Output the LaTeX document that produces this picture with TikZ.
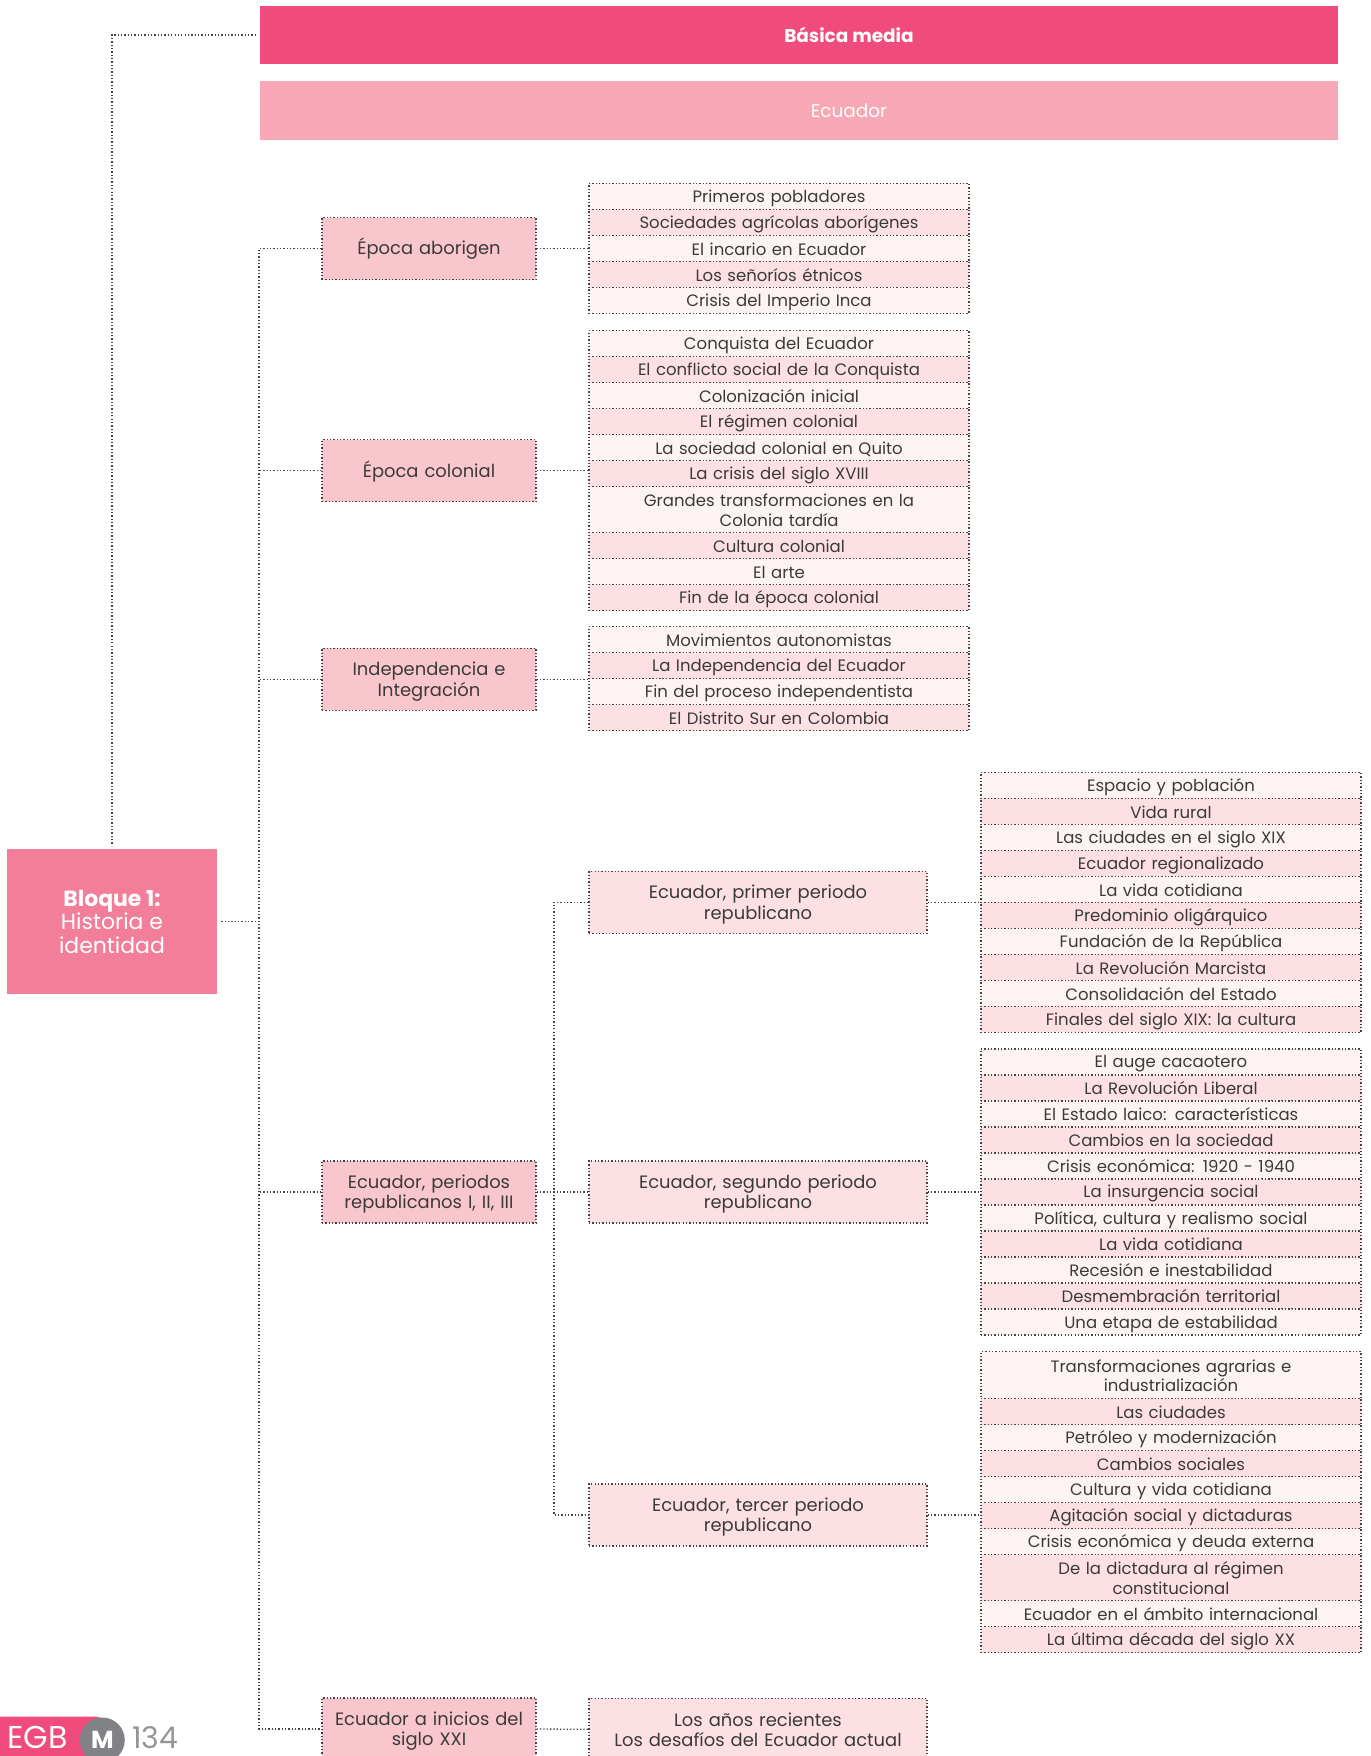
\documentclass[tikz,border=0pt]{standalone}
\usepackage{fontspec}
\setmainfont{Poppins}
\usepackage{xcolor}
\usetikzlibrary{positioning}

\definecolor{basicapink}{HTML}{EF4B7D}
\definecolor{ecuadorpink}{HTML}{F7A7B5}
\definecolor{bloquepink}{HTML}{F27E99}
\definecolor{levelpink}{HTML}{F9C6CE}
\definecolor{subpink}{HTML}{FDE0E4}
\definecolor{rowlight}{HTML}{FEF3F3}
\definecolor{rowdark}{HTML}{FDE0E4}
\definecolor{dotgray}{HTML}{444444}
\definecolor{txtgray}{HTML}{3A3A3A}
\definecolor{egbgray}{HTML}{808285}
\definecolor{pagegray}{HTML}{939598}

\newcommand{\topstrut}{\rule{0pt}{0.85\baselineskip}}
\newcommand{\footstrut}{\rule[-0.15\baselineskip]{0pt}{0.15\baselineskip}}

\tikzset{
  dotline/.style={draw=dotgray, line width=0.75pt, dash pattern=on 0.75pt off 1.15pt},
  link/.style={dotline},
  bar/.style={minimum width=21.56cm, minimum height=1.16cm, inner sep=0pt, anchor=west},
  bartext/.style={text=white, font=\fontsize{10.5}{12}\selectfont},
  bloque/.style={fill=bloquepink, text=white, minimum width=4.2cm, minimum height=2.9cm,
    align=center, font=\fontsize{12.5}{13.4}\selectfont},
  level/.style={dotline, fill=levelpink, text=txtgray, text width=4.28cm, minimum height=1.24cm,
    inner xsep=0pt, inner ysep=0pt, align=center, font=\fontsize{10.2}{11.8}\selectfont,
    execute at begin node=\topstrut, execute at end node=\footstrut},
  sublevel/.style={level, fill=subpink, text width=6.76cm},
  item/.style={dotline, text=txtgray, text width=7.6cm, inner xsep=0pt, inner ysep=0pt,
    outer sep=0pt, align=center, font=\fontsize{9.4}{11}\selectfont,
    execute at begin node=\topstrut, execute at end node=\footstrut},
}

% one column of topics: name, top point, items text/height
\newcommand{\topiclist}[3]{%
  \foreach \t/\h [count=\i] in {#3}{%
    \pgfmathtruncatemacro\j{\i-1}%
    \ifodd\i\relax\def\rowfill{rowlight}\else\def\rowfill{rowdark}\fi
    \ifnum\i=1\relax
      \node[item, fill=\rowfill, minimum height=\h, anchor=north] (#1\i) at (#2) {\t};
    \else
      \node[item, fill=\rowfill, minimum height=\h, below=0pt of #1\j] (#1\i) {\t};
    \fi
  }%
}

\begin{document}
\begin{tikzpicture}[x=0.02cm, y=-0.02cm]
\useasboundingbox (0,0) rectangle (1371,1756);

% top bars
\node[bar, fill=basicapink] (basica) at (260,35) {};
\node[bartext, font=\bfseries\fontsize{10.5}{12}\selectfont] (basicatxt) at (849,35) {Básica media};
\node[bar, fill=ecuadorpink, minimum height=1.18cm] (ecuador) at (260,110.5) {};
\node[bartext] (ecuadortxt) at (849,110.5) {Ecuador};

% block and first level
\node[bloque] (bloque) at (112,921.6) {\textbf{Bloque 1:}\\Historia e\\identidad};
\node[level] (aborigen) at (429,248.5) {Época aborigen};
\node[level] (colonial) at (429,470.7) {Época colonial};
\node[level] (independencia) at (429,679.4) {Independencia e\\Integración};
\node[level] (periodos) at (429,1192) {Ecuador, periodos\\republicanos I, II, III};
\node[level] (inicios) at (429,1729) {Ecuador a inicios del\\siglo XXI};

% second level
\node[sublevel] (primer) at (758,902.3) {Ecuador, primer periodo\\republicano};
\node[sublevel] (segundo) at (758,1192) {Ecuador, segundo periodo\\republicano};
\node[sublevel] (tercer) at (758,1515) {Ecuador, tercer periodo\\republicano};
\node[sublevel] (recientes) at (758,1729.3) {Los años recientes\\Los desafíos del Ecuador actual};

% topic columns
\topiclist{aborig}{779,183.3}{Primeros pobladores/0.52cm, Sociedades agrícolas aborígenes/0.52cm,
  El incario en Ecuador/0.52cm, Los señoríos étnicos/0.52cm, Crisis del Imperio Inca/0.52cm}
\topiclist{colon}{779,330.7}{Conquista del Ecuador/0.52cm, El conflicto social de la Conquista/0.52cm,
  Colonización inicial/0.52cm, El régimen colonial/0.52cm, La sociedad colonial en Quito/0.52cm,
  La crisis del siglo XVIII/0.52cm, {Grandes transformaciones en la\\Colonia tardía}/0.92cm,
  Cultura colonial/0.52cm, El arte/0.52cm, Fin de la época colonial/0.52cm}
\topiclist{indep}{779,626.7}{Movimientos autonomistas/0.52cm, La Independencia del Ecuador/0.52cm,
  Fin del proceso independentista/0.52cm, El Distrito Sur en Colombia/0.52cm}
\topiclist{pr}{1171,772.3}{Espacio y población/0.52cm, Vida rural/0.52cm,
  Las ciudades en el siglo XIX/0.52cm, Ecuador regionalizado/0.52cm, La vida cotidiana/0.52cm,
  Predominio oligárquico/0.52cm, Fundación de la República/0.52cm, La Revolución Marcista/0.52cm,
  Consolidación del Estado/0.52cm, Finales del siglo XIX: la cultura/0.52cm}
\topiclist{sg}{1171,1049}{El auge cacaotero/0.52cm, La Revolución Liberal/0.52cm,
  El Estado laico: características/0.52cm, Cambios en la sociedad/0.52cm,
  Crisis económica: 1920 - 1940/0.52cm, La insurgencia social/0.52cm,
  {Política, cultura y realismo social}/0.52cm, La vida cotidiana/0.52cm,
  Recesión e inestabilidad/0.52cm, Desmembración territorial/0.52cm, Una etapa de estabilidad/0.52cm}
\topiclist{tc}{1171,1351.7}{{Transformaciones agrarias e\\industrialización}/0.94cm, Las ciudades/0.52cm,
  Petróleo y modernización/0.52cm, Cambios sociales/0.52cm, Cultura y vida cotidiana/0.52cm,
  Agitación social y dictaduras/0.52cm, Crisis económica y deuda externa/0.52cm,
  {De la dictadura al régimen\\constitucional}/0.92cm, Ecuador en el ámbito internacional/0.52cm,
  La última década del siglo XX/0.52cm}

% connectors
\coordinate (trunk) at (259,0);
\coordinate (subtrunk) at (554,0);
\draw[link, shorten <=0.1cm, shorten >=0.06cm] (bloque.north) |- (basica.west);
\draw[link, shorten <=0.08cm] (bloque.east) -- (bloque.east -| trunk);
\draw[link] (aborigen.west) -| (trunk |- inicios.west) -- (inicios.west);
\foreach \n in {colonial, independencia, periodos}
  \draw[link] (\n.west) -- (\n.west -| trunk);
\draw[link] (aborigen.east) -- (aborigen.east -| aborig1.west);
\draw[link] (colonial.east) -- (colonial.east -| colon1.west);
\draw[link] (independencia.east) -- (independencia.east -| indep1.west);
\draw[link] (periodos.east) -- (segundo.west);
\draw[link] (primer.west) -| (subtrunk |- tercer.west) -- (tercer.west);
\draw[link] (primer.east) -- (primer.east -| pr1.west);
\draw[link] (segundo.east) -- (segundo.east -| sg1.west);
\draw[link] (tercer.east) -- (tercer.east -| tc1.west);
\draw[link] (inicios.east) -- (recientes.west);

% page mark
\fill[basicapink, rounded corners=0.3cm] (-30,1716.7) rectangle (110,1790);
\node[circle, fill=egbgray, minimum size=0.9cm, inner sep=0pt, text=white,
  font=\bfseries\fontsize{14}{14}\selectfont] (mark) at (102.3,1740) {M};
\node[anchor=base west, inner sep=0pt, text=white, font=\fontsize{18}{18}\selectfont] (egb) at (7,1748) {EGB};
\node[anchor=base west, inner sep=0pt, text=pagegray, font=\fontsize{17}{17}\selectfont] (page) at (132,1748) {134};
\end{tikzpicture}
\end{document}
